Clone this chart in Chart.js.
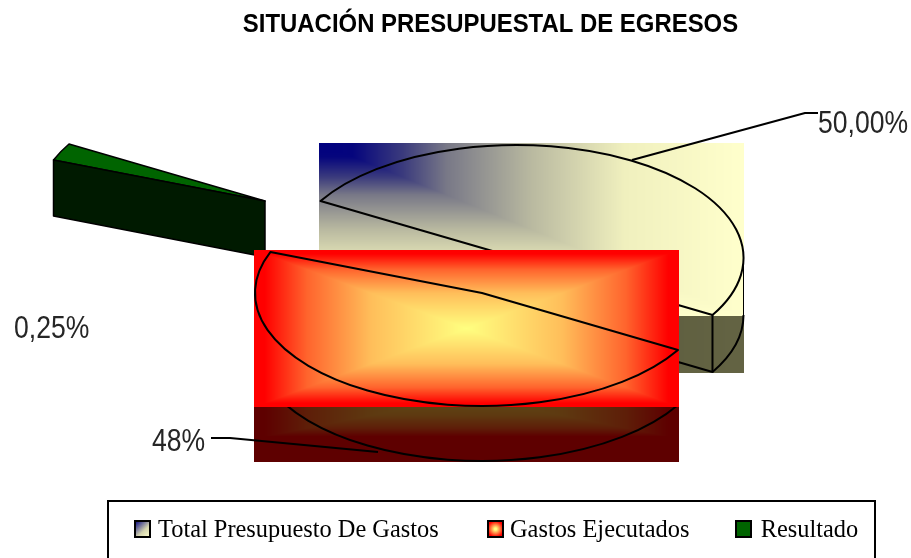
<!DOCTYPE html>
<html><head><meta charset="utf-8">
<style>html,body{margin:0;padding:0;background:#fff;overflow:hidden}canvas{display:block}</style>
<script src="https://cdn.jsdelivr.net/npm/chart.js@4"></script>
</head><body>
<canvas id="c" width="911" height="558"></canvas>
<script>
const categories = ['Total Presupuesto De Gastos', 'Gastos Ejecutados', 'Resultado'];
const sliceValues = [50, 47.5, 2.5];
const sliceLabels = ['50,00%', '48%', '0,25%'];
const chartTitle = 'SITUACIÓN PRESUPUESTAL DE EGRESOS';

/* presentation only */
const RX = 227, RY = 113;
const centres = [[516.5, 258], [482, 293], [265, 201]];
const depths = [57, 55, 56];
const labelPos = [[818, 124], [152, 442], [14, 329]];
const markerX = [135, 488, 736];
const boxMargin = [[2, 0], [1, 1]];

function mix(stops, t) {
  t = Math.max(0, Math.min(1, t));
  for (let i = 1; i < stops.length; i++) {
    if (t <= stops[i][0]) {
      const a = stops[i - 1], b = stops[i], k = (t - a[0]) / (b[0] - a[0]);
      return [a[1] + (b[1] - a[1]) * k, a[2] + (b[2] - a[2]) * k, a[3] + (b[3] - a[3]) * k];
    }
  }
  const l = stops[stops.length - 1];
  return [l[1], l[2], l[3]];
}
const blueStops = [[0, 0, 0, 128], [.08, 5, 5, 125], [.2, 60, 60, 125], [.3, 120, 120, 135], [.5, 185, 185, 160], [.72, 240, 240, 190], [1, 255, 255, 204]];
const redStops = [[0, 255, 255, 128], [.45, 255, 190, 90], [.75, 255, 100, 45], [.95, 255, 0, 0], [1, 255, 0, 0]];

function paint(ctx, x, y, w, h, fn) {
  w = Math.round(w); h = Math.round(h);
  const off = document.createElement('canvas');
  off.width = w; off.height = h;
  const o = off.getContext('2d'), img = o.createImageData(w, h);
  for (let j = 0; j < h; j++) for (let i = 0; i < w; i++) {
    const c = fn((i + .5) / w, (j + .5) / h), p = (j * w + i) * 4;
    img.data[p] = c[0]; img.data[p + 1] = c[1]; img.data[p + 2] = c[2]; img.data[p + 3] = 255;
  }
  o.putImageData(img, 0, 0);
  ctx.drawImage(off, Math.round(x), Math.round(y));
}
const cornerFill = (u, v) => mix(blueStops, Math.max(u, v));
const centreFill = (u, v) => mix(redStops, Math.max(Math.abs(2 * u - 1), Math.abs(2 * v - 1)));

function wedgeBox(c, s, e, m) {
  const xs = [c[0], c[0] + RX * Math.cos(s), c[0] + RX * Math.cos(e)];
  const ys = [c[1], c[1] + RY * Math.sin(s), c[1] + RY * Math.sin(e)];
  for (let k = -8; k <= 8; k++) {
    const a = k * Math.PI / 2;
    if (a > s && a < e) { xs.push(c[0] + RX * Math.cos(a)); ys.push(c[1] + RY * Math.sin(a)); }
  }
  return { x0: Math.min(...xs) - m[0], x1: Math.max(...xs) + m[1], y0: Math.min(...ys) - 2, y1: Math.max(...ys) + 1 };
}
function faceStroke(ctx, c, s, e) {
  ctx.beginPath();
  ctx.moveTo(c[0], c[1]);
  ctx.ellipse(c[0], c[1], RX, RY, 0, s, e);
  ctx.closePath();
  ctx.stroke();
}
function line(ctx, pts, w) {
  ctx.lineWidth = w;
  ctx.beginPath();
  pts.forEach((p, i) => i ? ctx.lineTo(p[0], p[1]) : ctx.moveTo(p[0], p[1]));
  ctx.stroke();
}

const piePainter = {
  id: 'piePainter',
  afterLayout(chart) {
    const lg = chart.legend, shift = 6;
    lg.top = 529 - 48 - 11;
    lg.left += shift; lg.right += shift;
    const tb = chart.titleBlock;
    if (!tb._narrowed) {
      tb._narrowed = true;
      const orig = tb.draw;
      tb.draw = function (area) {
        const ctx = this.ctx, cx = (this.left + this.right) / 2;
        ctx.save();
        ctx.translate(cx, 0); ctx.scale(.92, 1); ctx.translate(-cx, 0);
        orig.call(this, area);
        ctx.restore();
      };
    }
  },
  beforeDatasetDraw(chart) {
    const ctx = chart.ctx, arcs = chart.getDatasetMeta(0).data;
    ctx.save();
    ctx.strokeStyle = '#000'; ctx.lineJoin = 'round';

    /* third slice: solid wedge */
    {
      const a = arcs[2], c = centres[2], d = depths[2], s = a.startAngle, e = a.endAngle;
      const p0 = [c[0] + RX * Math.cos(s), c[1] + RY * Math.sin(s)];
      ctx.fillStyle = '#006400';
      ctx.beginPath(); ctx.moveTo(c[0], c[1]); ctx.ellipse(c[0], c[1], RX, RY, 0, s, e); ctx.closePath(); ctx.fill();
      ctx.lineWidth = 1.5; ctx.stroke();
      ctx.fillStyle = '#001a00';
      ctx.beginPath(); ctx.moveTo(p0[0], p0[1]); ctx.lineTo(c[0], c[1]); ctx.lineTo(c[0], c[1] + d); ctx.lineTo(p0[0], p0[1] + d); ctx.closePath(); ctx.fill();
      ctx.lineWidth = 1.5; ctx.stroke();
    }

    /* first slice */
    {
      const a = arcs[0], c = centres[0], d = depths[0], s = a.startAngle, e = a.endAngle, b = wedgeBox(c, s, e, boxMargin[0]);
      const w = b.x1 - b.x0, h = b.y1 - b.y0;
      paint(ctx, b.x0, b.y1, w, d, (u, v) => cornerFill(u, v).map((x, i) => x * (i === 2 ? .33 : .39)));
      paint(ctx, b.x0, b.y0, w, h, cornerFill);
      const ex = c[0] + RX * Math.cos(e), ey = c[1] + RY * Math.sin(e);
      ctx.lineWidth = 2;
      ctx.beginPath(); ctx.ellipse(c[0], c[1] + d, RX, RY, 0, 0, e - Math.PI * 2); ctx.stroke();
      line(ctx, [[ex, ey], [ex, ey + d], [c[0], c[1] + d]], 2);
      line(ctx, [[c[0] + RX, c[1]], [c[0] + RX, c[1] + d]], 1);
      ctx.lineWidth = 2;
      faceStroke(ctx, c, s, e);
      line(ctx, [[632, 160], [805, 113], [818, 113]], 2);
    }

    /* second slice */
    {
      const a = arcs[1], c = centres[1], d = depths[1], s = a.startAngle, e = a.endAngle, b = wedgeBox(c, s, e, boxMargin[1]);
      const w = b.x1 - b.x0, h = b.y1 - b.y0;
      paint(ctx, b.x0, b.y1, w, d, (u, v) => {
        const t = Math.max(Math.abs(2 * u - 1), v * 1.3 + .25);
        return mix(redStops, t).map((x, i) => x * (i === 0 ? .37 : i === 1 ? .3 : .18));
      });
      ctx.lineWidth = 2;
      ctx.beginPath(); ctx.ellipse(c[0], c[1] + d, RX, RY, 0, s, e); ctx.stroke();
      line(ctx, [[211, 438], [230, 438], [378, 452]], 2);
      paint(ctx, b.x0, b.y0, w, h, centreFill);
      ctx.lineWidth = 2;
      faceStroke(ctx, c, s, e);
    }

    /* percentage labels */
    ctx.fillStyle = '#262626';
    ctx.font = '32px "Liberation Sans"';
    ctx.textBaseline = 'middle'; ctx.textAlign = 'left';
    sliceLabels.forEach((t, i) => {
      ctx.save();
      ctx.translate(labelPos[i][0], labelPos[i][1]);
      ctx.scale(.83, 1);
      ctx.fillText(t, 0, 0);
      ctx.restore();
    });
    ctx.restore();
    return false;
  },
  afterDraw(chart) {
    const ctx = chart.ctx;
    ctx.save();
    ctx.strokeStyle = '#000'; ctx.lineWidth = 2;
    ctx.strokeRect(108, 501, 767, 80);
    /* legend swatches */
    const fills = [
      x => { const g = ctx.createLinearGradient(x, 521, x + 15, 537); g.addColorStop(0, '#000080'); g.addColorStop(.6, '#d5d5b0'); g.addColorStop(1, '#ffffcc'); return g; },
      x => { const g = ctx.createRadialGradient(x + 7.5, 529, 1, x + 7.5, 529, 8); g.addColorStop(0, '#ffff80'); g.addColorStop(1, '#ff0000'); return g; },
      () => '#006400'
    ];
    markerX.forEach((x, i) => {
      ctx.fillStyle = fills[i](x);
      ctx.fillRect(x, 521, 15, 16);
      ctx.strokeRect(x, 521, 15, 16);
    });
    ctx.restore();
  }
};

new Chart(document.getElementById('c'), {
  type: 'pie',
  data: { labels: categories, datasets: [{ data: sliceValues, borderWidth: 0 }] },
  plugins: [piePainter],
  options: {
    responsive: false, animation: false,
    rotation: 300.3,
    layout: { padding: { left: 70 } },
    plugins: {
      tooltip: { enabled: false },
      title: {
        display: true, text: chartTitle, color: '#000',
        font: { family: '"Liberation Sans"', size: 26, weight: 'bold' },
        padding: { top: 9, bottom: 10 }
      },
      legend: {
        display: true, position: 'bottom',
        onClick: null,
        labels: {
          color: '#000', boxWidth: 11, boxHeight: 13, padding: 48,
          font: { family: '"Liberation Serif"', size: 24.4 },
          generateLabels(chart) {
            return categories.map((t, i) => ({ text: t, fillStyle: 'rgba(0,0,0,0)', strokeStyle: 'rgba(0,0,0,0)', lineWidth: 0, hidden: false, index: i }));
          }
        }
      }
    }
  }
});
</script>
</body></html>
